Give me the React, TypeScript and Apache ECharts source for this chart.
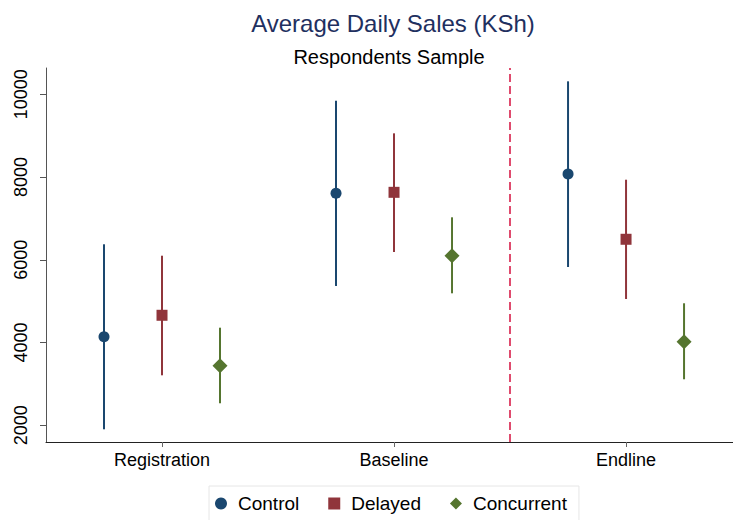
import React, { useEffect, useRef } from "react";
import * as echarts from "echarts";

const categories = ["Registration", "Baseline", "Endline"];
const groupNames = ["Control", "Delayed", "Concurrent"];

const controlMean = [4141, 7607, 8074];
const controlLow = [1903, 5367, 5826];
const controlHigh = [6375, 9845, 10314];

const delayedMean = [4659, 7631, 6496];
const delayedLow = [3208, 6188, 5053];
const delayedHigh = [6099, 9057, 7936];

const concurrentMean = [3440, 6099, 4021];
const concurrentLow = [2532, 5190, 3112];
const concurrentHigh = [4359, 7027, 4949];

const yTicks = [2000, 4000, 6000, 8000, 10000];
const dividerAt = 2.5;

const FONT = "'Liberation Sans', Arial, Helvetica, sans-serif";

export default function App() {
  const ref = useRef<HTMLDivElement>(null);

  useEffect(() => {
    if (!ref.current) return;
    const chart = echarts.init(ref.current, null, { renderer: "svg" });

    const groups = [
      { name: groupNames[0], mean: controlMean, low: controlLow, high: controlHigh, color: "#1a476f", symbol: "circle", size: 11, offset: -0.25 },
      { name: groupNames[1], mean: delayedMean, low: delayedLow, high: delayedHigh, color: "#90353b", symbol: "rect", size: 11, offset: 0 },
      { name: groupNames[2], mean: concurrentMean, low: concurrentLow, high: concurrentHigh, color: "#55752f", symbol: "diamond", size: 15, offset: 0.25 },
    ];

    const series: any[] = [];
    groups.forEach((g) => {
      series.push({
        type: "custom",
        name: g.name + " CI",
        data: categories.map((_, i) => [i + 1 + g.offset, g.low[i], g.high[i]]),
        encode: { x: 0, y: [1, 2] },
        renderItem: (params: any, api: any) => {
          const x = api.value(0);
          const lo = api.coord([x, api.value(1)]);
          const hi = api.coord([x, api.value(2)]);
          return {
            type: "line",
            shape: { x1: lo[0], y1: lo[1], x2: hi[0], y2: hi[1] },
            style: { stroke: g.color, lineWidth: 2 },
          };
        },
        z: 2,
      });
      series.push({
        type: "scatter",
        name: g.name,
        symbol: g.symbol,
        symbolSize: g.size,
        itemStyle: { color: g.color, opacity: 1 },
        data: categories.map((_, i) => [i + 1 + g.offset, g.mean[i]]),
        z: 3,
      });
    });

    series.push({
      type: "line",
      name: "divider",
      data: [],
      markLine: {
        silent: true,
        symbol: ["none", "none"],
        label: { show: false },
        lineStyle: { color: "#d81e4a", type: [8, 4], width: 1.6 },
        data: [{ xAxis: dividerAt }],
      },
    });

    chart.setOption({
      animation: false,
      backgroundColor: "#ffffff",
      title: [
        {
          text: "Average Daily Sales (KSh)",
          left: 388,
          textAlign: "center",
          top: 6,
          textStyle: { fontFamily: FONT, fontSize: 24, fontWeight: "normal", color: "#1f3060" },
        },
        {
          text: "Respondents Sample",
          left: 384,
          textAlign: "center",
          top: 42,
          textStyle: { fontFamily: FONT, fontSize: 20, fontWeight: "normal", color: "#000000" },
        },
      ],
      legend: {
        data: groups.map((g) => ({ name: g.name, icon: g.symbol, itemStyle: { color: g.color } })),
        left: 209,
        top: 486,
        orient: "horizontal",
        padding: [8, 12, 8, 6],
        itemGap: 29,
        itemWidth: 12,
        itemHeight: 12,
        borderColor: "#e6e6e6",
        borderWidth: 1,
        textStyle: { fontFamily: FONT, fontSize: 19, color: "#000", padding: [0, 0, 0, 6] },
      },
      grid: { left: 46, right: 0, top: 68, bottom: 78, containLabel: false },
      xAxis: {
        type: "value",
        min: 0.5,
        max: 3.461,
        splitLine: { show: false },
        axisLine: { show: true, lineStyle: { color: "#222", width: 1 } },
        axisTick: { show: true, customValues: [1, 2, 3], length: 5, lineStyle: { color: "#666" } },
        axisLabel: {
          customValues: [1, 2, 3],
          formatter: (v: number) => categories[Math.round(v) - 1] ?? "",
          fontFamily: FONT,
          fontSize: 18,
          color: "#000",
          margin: 9,
        },
      },
      yAxis: {
        type: "value",
        min: 1596,
        max: 10636,
        splitLine: { show: false },
        axisLine: { show: true, lineStyle: { color: "#555", width: 1 } },
        axisTick: { show: true, customValues: yTicks, length: 6, lineStyle: { color: "#555" } },
        axisLabel: {
          customValues: yTicks,
          formatter: (v: number) => String(v),
          rotate: 90,
          fontFamily: FONT,
          fontSize: 18,
          color: "#000",
          margin: 16,
        },
      },
      series,
    });

    return () => chart.dispose();
  }, []);

  return <div ref={ref} style={{ width: 733, height: 520, position: "absolute", left: 0, top: 0 }} />;
}
